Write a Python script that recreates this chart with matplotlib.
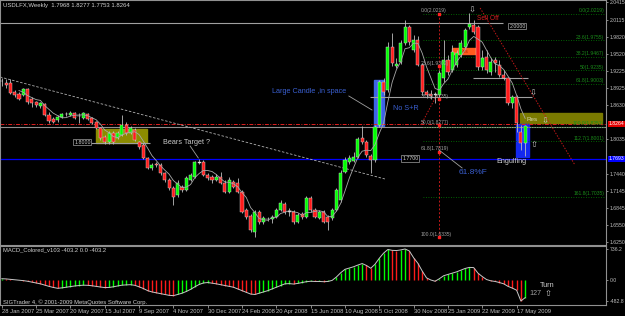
import matplotlib
matplotlib.use("Agg")
import matplotlib.pyplot as plt
from matplotlib.patches import Rectangle
import numpy as np
import pandas as pd

plt.rcParams['font.family'] = ['Liberation Sans', 'DejaVu Sans']

# weekly USDLFX candles, week of 28 Jan 2007 .. end of May 2009
opens = [1.9040, 1.9013, 1.9013, 1.8857, 1.8822, 1.8805, 1.8909, 1.8735, 1.8683, 1.8614,
         1.8649, 1.8458, 1.8388, 1.8371, 1.8423, 1.8475, 1.8458, 1.8492, 1.8440, 1.8405,
         1.8475, 1.8405, 1.8336, 1.8232, 1.8075, 1.7988, 1.8145, 1.8058, 1.8110, 1.8284,
         1.8145, 1.8197, 1.7988, 1.7937, 1.7711, 1.7537, 1.7606, 1.7589, 1.7450, 1.7329,
         1.7190, 1.7068, 1.7207, 1.7155, 1.7329, 1.7381, 1.7641, 1.7641, 1.7415, 1.7381,
         1.7329, 1.7381, 1.7276, 1.7120, 1.7294, 1.7276, 1.7120, 1.6808, 1.6703, 1.6425,
         1.6773, 1.6599, 1.6651, 1.6651, 1.6686, 1.6808, 1.6911, 1.6790, 1.6773, 1.6599,
         1.6738, 1.6686, 1.7016, 1.6808, 1.6668, 1.6773, 1.6686, 1.6668, 1.6808, 1.6981,
         1.7467, 1.7641, 1.7658, 1.7728, 1.8058, 1.7988, 1.7745, 1.7676, 1.8284, 1.9031,
         1.8892, 1.9639, 1.9300, 1.9378, 1.9708, 1.9986, 1.9587, 1.9760, 1.9326, 1.8857,
         1.8822, 1.8805, 1.8805, 1.9100, 1.9413, 1.9239, 1.9326, 1.9500, 1.9639, 1.9986,
         2.0021, 1.9986, 1.9291, 1.9465, 1.9204, 1.9413, 1.9326, 1.9152, 1.9100, 1.8666,
         1.8770, 1.8162, 1.7968]
highs = [1.9100, 1.9083, 1.9083, 1.8892, 1.8857, 1.8926, 1.8926, 1.8770, 1.8701, 1.8683,
         1.8666, 1.8510, 1.8423, 1.8458, 1.8492, 1.8510, 1.8527, 1.8510, 1.8492, 1.8510,
         1.8492, 1.8423, 1.8353, 1.8249, 1.8110, 1.8180, 1.8180, 1.8180, 1.8458, 1.8336,
         1.8266, 1.8232, 1.8006, 1.7971, 1.7728, 1.7624, 1.7641, 1.7624, 1.7467, 1.7363,
         1.7224, 1.7329, 1.7242, 1.7398, 1.7450, 1.7658, 1.7693, 1.7676, 1.7450, 1.7415,
         1.7433, 1.7467, 1.7329, 1.7381, 1.7329, 1.7363, 1.7155, 1.6842, 1.6738, 1.6808,
         1.6808, 1.6703, 1.6686, 1.6721, 1.6842, 1.6981, 1.6946, 1.6842, 1.6808, 1.6755,
         1.6773, 1.7051, 1.7051, 1.6842, 1.6808, 1.6808, 1.6721, 1.6842, 1.7190, 1.7502,
         1.7728, 1.7763, 1.7815, 1.8075, 1.8266, 1.8023, 1.7780, 1.8284, 1.9066, 1.9100,
         1.9725, 1.9882, 1.9448, 1.9760, 2.0108, 2.0021, 1.9847, 1.9830, 1.9361, 1.8892,
         1.8892, 1.8857, 1.9239, 1.9760, 1.9500, 1.9673, 1.9587, 1.9760, 1.9969, 2.0229,
         2.0108, 2.0021, 1.9587, 1.9587, 1.9448, 1.9465, 1.9413, 1.9239, 1.9118, 1.8805,
         1.8805, 1.8284, 1.8277]
lows = [1.8961, 1.8926, 1.8822, 1.8770, 1.8718, 1.8787, 1.8649, 1.8596, 1.8596, 1.8579,
        1.8440, 1.8318, 1.8318, 1.8336, 1.8405, 1.8440, 1.8440, 1.8388, 1.8318, 1.8388,
        1.8371, 1.8301, 1.8214, 1.8023, 1.7954, 1.7954, 1.7954, 1.8041, 1.8093, 1.8110,
        1.8128, 1.8006, 1.7867, 1.7693, 1.7520, 1.7502, 1.7554, 1.7415, 1.7294, 1.7155,
        1.6894, 1.7033, 1.7120, 1.7137, 1.7311, 1.7363, 1.7606, 1.7398, 1.7329, 1.7276,
        1.7311, 1.7259, 1.7103, 1.7103, 1.7190, 1.7103, 1.6755, 1.6651, 1.6425, 1.6338,
        1.6564, 1.6564, 1.6616, 1.6582, 1.6668, 1.6790, 1.6738, 1.6703, 1.6564, 1.6582,
        1.6651, 1.6668, 1.6773, 1.6668, 1.6651, 1.6582, 1.6460, 1.6634, 1.6790, 1.6946,
        1.7450, 1.7606, 1.7641, 1.7711, 1.7954, 1.7728, 1.7450, 1.7641, 1.8249, 1.8805,
        1.8857, 1.9309, 1.9274, 1.9343, 1.9673, 1.9673, 1.9552, 1.9309, 1.8805, 1.8753,
        1.8735, 1.8666, 1.8753, 1.9031, 1.9152, 1.9204, 1.9291, 1.9465, 1.9621, 1.9951,
        1.9864, 1.9239, 1.9239, 1.9187, 1.9152, 1.9204, 1.9118, 1.9066, 1.8631, 1.8579,
        1.8162, 1.7850, 1.7753]
closes = [1.9052, 1.8979, 1.8840, 1.8805, 1.8735, 1.8909, 1.8683, 1.8666, 1.8631, 1.8666,
          1.8458, 1.8353, 1.8336, 1.8423, 1.8475, 1.8470, 1.8492, 1.8405, 1.8445, 1.8492,
          1.8388, 1.8318, 1.8232, 1.8058, 1.7988, 1.8145, 1.7988, 1.8145, 1.8284, 1.8145,
          1.8232, 1.8023, 1.7902, 1.7711, 1.7537, 1.7589, 1.7589, 1.7450, 1.7329, 1.7190,
          1.7033, 1.7276, 1.7155, 1.7363, 1.7415, 1.7641, 1.7630, 1.7415, 1.7363, 1.7329,
          1.7381, 1.7276, 1.7120, 1.7329, 1.7207, 1.7120, 1.6773, 1.6686, 1.6460, 1.6773,
          1.6599, 1.6668, 1.6645, 1.6686, 1.6808, 1.6929, 1.6773, 1.6780, 1.6599, 1.6721,
          1.6686, 1.7016, 1.6808, 1.6686, 1.6773, 1.6599, 1.6599, 1.6808, 1.7155, 1.7450,
          1.7676, 1.7711, 1.7728, 1.8041, 1.7988, 1.7763, 1.7676, 1.8249, 1.9031, 1.8857,
          1.9639, 1.9361, 1.9350, 1.9708, 1.9986, 1.9725, 1.9760, 1.9326, 1.8857, 1.8805,
          1.8787, 1.8815, 1.9187, 1.9413, 1.9204, 1.9552, 1.9534, 1.9708, 1.9934, 2.0038,
          1.9899, 1.9291, 1.9448, 1.9239, 1.9378, 1.9361, 1.9152, 1.9100, 1.8666, 1.8770,
          1.8318, 1.7971, 1.8264]

# MACD_Colored values (points)
macd = [40, 35, 25, 15, 5, -5, -20, -40, -60, -80,
        -110, -140, -165, -185, -175, -160, -145, -130, -120, -112,
        -115, -125, -140, -155, -168, -165, -150, -130, -112, -105,
        -100, -115, -150, -190, -240, -270, -290, -310, -330, -350,
        -357, -330, -300, -260, -210, -150, -95, -60, -50, -65,
        -80, -100, -120, -140, -160, -200, -240, -280, -320, -330,
        -300, -270, -240, -200, -160, -120, -80, -75, -85, -70,
        -50, -30, -20, -25, -25, -30, -25, 0, 80, 180,
        260, 290, 320, 360, 395, 350, 285, 380, 520, 640,
        725, 705, 700, 715, 736.2, 690, 530, 400, 220, 60,
        10, -20, 40, 110, 140, 170, 200, 240, 280, 305,
        300, 170, 90, 20, -10, -25, -50, -80, -140, -180,
        -230, -482.8, -403.2]

date_labels = ['28 Jan 2007', '25 Mar 2007', '20 May 2007', '15 Jul 2007', '9 Sep 2007',
               '4 Nov 2007', '30 Dec 2007', '24 Feb 2008', '20 Apr 2008', '15 Jun 2008',
               '10 Aug 2008', '5 Oct 2008', '30 Nov 2008', '25 Jan 2009', '22 Mar 2009',
               '17 May 2009']
date_bars = list(range(0, 121, 8))
# 1.8335 and 1.7740 sit under the coloured price boxes
price_ticks = [2.0415, 2.0115, 1.9820, 1.9520, 1.9225, 1.8925, 1.8630,
               1.8035, 1.7440, 1.7145, 1.6845, 1.6550, 1.6250]
macd_ticks = [736.2, 0.0, -482.8]

# fibonacci objects
fibL_hi, fibL_lo = 2.0219, 1.6335
fibL_levels = [0, 23.6, 38.2, 50, 61.8, 100]
fibR_hi, fibR_lo = 2.0219, 1.8251
fibR_levels = [0, 23.6, 38.2, 50, 61.8, 100, 112.7, 161.8]

# horizontal lines drawn on the chart
line_2000 = 2.0055
line_res_top = 1.9100
line_mid = 1.8770
line_red = 1.8301
line_gray = 1.8249
line_1800 = 1.7971
line_blue = 1.7693

LIME = '#00ff00'
RED = '#ff1a1a'

o = np.array(opens); h = np.array(highs); l = np.array(lows); c = np.array(closes)
n = len(o)
x = np.arange(n)

fig = plt.figure(figsize=(6.25, 3.16), dpi=100, facecolor='black')
ax = fig.add_axes([0, 1 - 245 / 316, 606 / 625, 245 / 316])
ax2 = fig.add_axes([0, 1 - 305 / 316, 606 / 625, 59 / 316])

for a in (ax, ax2):
    a.set_facecolor('black')
    for s in a.spines.values():
        s.set_color('#909090')
        s.set_linewidth(0.8)
    a.set_xlim(-0.42, 140.84)

ax.set_ylim(1.6199, 2.0455)
ax2.set_ylim(-576.5, 806.5)

# background objects
ax.add_patch(Rectangle((22.0, 1.7971), 11.9, 0.0243, color='#8c8c00', zorder=1))
ax.add_patch(Rectangle((120.8, 1.8318), 19.1, 0.0174, color='#7a7a00', zorder=1))
ax.add_patch(Rectangle((86.8, 1.8266), 2.3, 0.0800, color='#3c64e6', zorder=1))
ax.add_patch(Rectangle((119.9, 1.7728), 3.0, 0.0573, color='#1428f0', zorder=1))
ax.add_patch(Rectangle((104.9, 1.9517), 5.9, 0.0104, color='#ff5a1e', zorder=1))
ax.text(107.8, 1.9569, 'Res', color='#a02000', fontsize=3.5, ha='center', va='center', zorder=2)

ax.axhline(line_red, color='#e02020', lw=0.7, ls=(0, (4, 1.5, 1, 1.5)), zorder=2)
ax.axhline(line_gray, color='#909090', lw=0.8, zorder=2)
ax.axhline(line_blue, color='#0000ff', lw=0.9, zorder=2)
ax.hlines(line_2000, -0.42, 116.8, color='#a0a0a0', lw=0.8, zorder=2)
ax.hlines(line_mid, 85.8, 123.6, color='#a0a0a0', lw=0.8, zorder=2)
ax.hlines(line_res_top, 109.8, 122.7, color='#a0a0a0', lw=0.8, zorder=2)
ax.hlines(line_1800, 20.8, 34.5, color='#a0a0a0', lw=0.8, zorder=2)

# trend lines
ax.plot([-0.42, 89.3], [1.9118, 1.7346], color='#b0b0b0', lw=0.6, ls=(0, (3, 2)), zorder=2)
ax.plot([111.5, 133.6], [2.0316, 1.7589], color='#c01818', lw=0.7, ls=(0, (1.5, 1.5)), zorder=2)
ax.plot([97.7, 101.4], [1.8284, 1.8805], color='#c01818', lw=0.7, ls=(0, (1.5, 1.5)), zorder=2)

# right fibonacci
fr = [fibR_hi - lv / 100 * (fibR_hi - fibR_lo) for lv in fibR_levels]
ax.hlines(fr, 98.2, 140.6, color='#008000', lw=0.6, ls=(0, (1, 2)), zorder=2)
for lv, p in zip(fibR_levels, fr):
    name = '%.1f' % lv if lv in (0, 100) else ('%.1f' % lv).rstrip('0').rstrip('.')
    ax.text(140.4, p + 0.0008, '%s(%.4f)' % (name, p),
            color='#1a8a1a', fontsize=3.6, ha='right', va='bottom', zorder=6)

# left fibonacci (vertical)
fl = [fibL_hi - lv / 100 * (fibL_hi - fibL_lo) for lv in fibL_levels]
ax.vlines(101.9, fibL_lo, fibL_hi, color='#c01818', lw=0.7, ls=(0, (2, 2)), zorder=2)
ax.scatter([101.9] * len(fl), fl, s=2.5, marker='s', color='#ff2020', zorder=6)
for lv, p in zip(fibL_levels, fl):
    ax.text(97.7, p + 0.0008, '%.1f(%.4f)' % (lv, p), color='#a0a0a0', fontsize=3.6,
            ha='left', va='bottom', zorder=6)

# candles
up = c >= o
body_lo = np.minimum(o, c)
body_h = np.maximum(np.abs(c - o), 0.0005)
cols = [('#e8e8e8' if abs(ci - oi) < 0.0012 else (LIME if u else RED))
        for oi, ci, u in zip(o, c, up)]
ax.vlines(x, l, h, color='#bdbdbd', lw=0.6, zorder=3)
ax.bar(x, body_h, bottom=body_lo, width=0.72, color=cols, edgecolor='#d8d8d8',
       linewidth=0.3, zorder=4)
ma = pd.Series(c).rolling(5).mean()
ax.plot(x, ma, color='#a8a8a8', lw=0.6, zorder=5)

# annotations
txt = dict(fontsize=5.2, zorder=7)
ax.text(63.0, 1.8874, 'Large Candle ,in space', color='#3a5fd0', va='center', **txt)
ax.plot([80.9, 86.3], [1.8787, 1.8544], color='#a0a0a0', lw=0.6, zorder=7)
ax.text(91.2, 1.8562, 'No S+R', color='#3a5fd0', va='center', **txt)
ax.text(37.6, 1.7988, 'Bears Target ?', color='#c8c8c8', va='center', **txt)
ax.plot([43.9, 45.8], [1.7919, 1.7711], color='#a0a0a0', lw=0.6, zorder=7)
ax.text(109.9, 1.7450, '61.8%F', color='#3a5fd0', ha='center', va='center', fontsize=6, zorder=7)
ax.plot([101.9, 107.3], [1.7850, 1.7537], color='#a0a0a0', lw=0.6, zorder=7)
ax.text(118.9, 1.7658, 'Engulfing', color='#d0d0d0', ha='center', va='center', **txt)
ax.text(110.8, 2.0142, 'Sell Off', color='#d02020', va='center', fontsize=4.8, zorder=7)
ax.text(122.4, 1.8380, 'Res', color='#d8d8b0', va='center', fontsize=4.5, zorder=7)
arrow = dict(color='#c8c8c8', ha='center', va='center', fontsize=6, family='DejaVu Sans', zorder=7)
ax.text(109.6, 2.0281, '\u21e9', **arrow)
ax.text(123.8, 1.8840, '\u21e9', **arrow)
ax.text(126.6, 1.8353, '\u21e9', **arrow)
ax.text(124.1, 1.7937, '\u21e7', **arrow)

box = dict(boxstyle='square,pad=0.15', facecolor='black', edgecolor='#a0a0a0', lw=0.5)
ax.text(18.8, 1.7988, '1.8000', color='#d0d0d0', fontsize=3.8, ha='center', va='center', bbox=box, zorder=7)
ax.text(95.2, line_blue + 0.0010, '1.7700', color='#d0d0d0', fontsize=3.8, ha='center', va='center', bbox=box, zorder=7)
ax.text(120.2, 2.0003, '2.0000', color='#d0d0d0', fontsize=3.8, ha='center', va='center', bbox=box, zorder=7)

ax.text(3 / 606, 1 - 5 / 245, 'USDLFX,Weekly  %.4f %.4f %.4f %.4f' % (o[-1], h[-1], l[-1], c[-1]),
        transform=ax.transAxes, color='#d0d0d0', fontsize=4.3, va='center', ha='left')

# price axis on the right
ax.yaxis.tick_right()
ax.set_yticks(price_ticks)
ax.set_yticklabels(['%.4f' % p for p in price_ticks])
ax.tick_params(axis='y', colors='#c0c0c0', labelsize=3.7, length=1.5, pad=1, width=0.5)
ax.set_xticks([])
ytr = ax.get_yaxis_transform()
ax.text(1.004, line_red, '%.4f' % c[-1], transform=ytr, color='white', fontsize=3.7, va='center', ha='left',
        bbox=dict(boxstyle='square,pad=0.1', facecolor='#e00000', edgecolor='none'), clip_on=False, zorder=8)
ax.text(1.004, line_blue, '%.4f' % line_blue, transform=ytr, color='white', fontsize=3.7, va='center', ha='left',
        bbox=dict(boxstyle='square,pad=0.1', facecolor='#0000ff', edgecolor='none'), clip_on=False, zorder=8)

# MACD window
mv = np.array(macd, dtype=float)
mcol = [LIME] + [LIME if mv[i] >= mv[i - 1] else RED for i in range(1, n)]
ax2.vlines(x, 0, mv, colors=mcol, lw=1.0, zorder=3)
ax2.plot(x, mv, color='#c8c8c8', lw=0.7, zorder=4)
ax2.text(3 / 606, 1 - 4 / 59, 'MACD_Colored_v103 %.1f 0.0 %.1f' % (mv[-1], mv[-1]),
         transform=ax2.transAxes, color='#d0d0d0', fontsize=4.2, va='center')
ax2.text(3 / 606, 3 / 59, 'SIGTrader 4, \u00a9 2001-2009 MetaQuotes Software Corp.',
         transform=ax2.transAxes, color='#d0d0d0', fontsize=4.2, va='center')
ax2.text(125.5, -108, 'Turn', color='#d0d0d0', fontsize=5.2, va='center', zorder=6)
ax2.text(122.9, -318, '127', color='#a0a0a0', fontsize=5.2, va='center', zorder=6)
ax2.text(126.4, -318, '\u21e7', color='#c8c8c8', fontsize=6, va='center', family='DejaVu Sans', zorder=6)

ax2.yaxis.tick_right()
ax2.set_yticks(macd_ticks)
ax2.set_yticklabels(['%.1f' % v for v in macd_ticks])
ax2.tick_params(axis='y', colors='#c0c0c0', labelsize=3.7, length=1.5, pad=1, width=0.5)
ax2.set_xticks(date_bars)
ax2.set_xticklabels(date_labels)
ax2.tick_params(axis='x', colors='#c0c0c0', labelsize=4.2, length=2, pad=1, width=0.5)
for t in ax2.get_xticklabels():
    t.set_ha('left')

fig.savefig('out.png', dpi=100, facecolor='black')
